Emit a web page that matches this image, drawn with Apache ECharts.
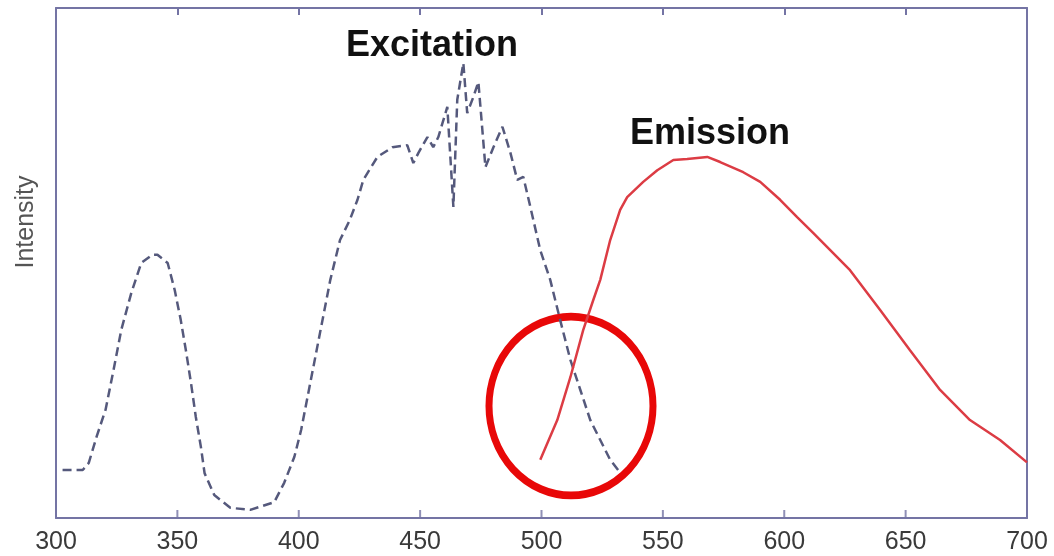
<!DOCTYPE html>
<html>
<head>
<meta charset="utf-8">
<script src="https://cdn.jsdelivr.net/npm/echarts@6/dist/echarts.min.js"></script>
<style>html,body{margin:0;padding:0;background:#fff}#c{width:1054px;height:556px}</style>
</head>
<body>
<div id="c"></div>
<script>
var xTicks = [300, 350, 400, 450, 500, 550, 600, 650, 700];
var excitationNm = [302.7, 311, 313.5, 316.7, 320.4, 323.7, 326.9, 331, 335.1, 339.7, 341.8, 346, 348.9, 351.4, 353.5, 355.6, 357.6, 359.7, 361.2, 365.2, 371.8, 380, 389.9, 394, 398.2, 401, 405, 409, 413, 417, 421, 424.2, 426.6, 432.4, 438.6, 444.7, 447.2, 449.3, 453, 455.4, 457.5, 461.2, 463.7, 465.3, 467.8, 469.4, 471.9, 474, 476.9, 480.2, 483.9, 487.2, 490, 492.5, 495.4, 499.5, 503.6, 507.7, 511.9, 516, 520.1, 524.2, 528.3, 531.6];
var excitationVal = [9.4, 9.4, 10.8, 15.9, 21.2, 29, 36.9, 44.1, 50, 51.6, 51.6, 50, 44.7, 38.8, 32.9, 26.5, 19.8, 13.9, 8.8, 4.5, 2, 1.6, 3.1, 6.9, 12, 17.3, 27.1, 36.9, 46.7, 54.5, 58.4, 62.4, 66.3, 70.8, 72.7, 73.1, 69.6, 71.6, 74.7, 72.7, 74.7, 80.6, 61, 82, 89.2, 79.4, 82.5, 85.5, 68.8, 72.7, 76.7, 71.6, 66.3, 66.9, 61, 52.5, 46.7, 38.8, 31, 25.1, 19.2, 15.3, 11.4, 9.4];
var emissionNm = [499.5, 506.5, 511.9, 517.2, 521.3, 524.2, 528.3, 532.4, 535.3, 541.9, 547.7, 554.3, 560, 568.3, 573.6, 583.1, 590.1, 598.3, 605.3, 611.9, 627.1, 639.5, 651.8, 664.2, 676.5, 688.9, 700];
var emissionVal = [11.4, 19.2, 27.6, 36.9, 42.7, 46.7, 54.5, 60.4, 62.9, 65.9, 68.2, 70.2, 70.4, 70.8, 69.8, 67.8, 65.9, 62.4, 59, 55.9, 48.6, 40.8, 32.9, 25.1, 19.2, 15.3, 10.9];
var labels = ['Excitation', 'Emission'];
var yName = 'Intensity';

function pairs(xs, ys) { return xs.map(function (x, i) { return [x, ys[i]]; }); }

var axisColor = '#7474a4';
var xMin = xTicks[0], xMax = xTicks[xTicks.length - 1];
var bottomTicks = xTicks.slice(1, xTicks.length - 1).map(function (x) { return [x, 0]; });
var chart = echarts.init(document.getElementById('c'));
chart.setOption({
  animation: false,
  backgroundColor: '#ffffff',
  grid: { left: 56, right: 27, top: 8, bottom: 38 },
  xAxis: [
    {
      type: 'value', min: xMin, max: xMax, interval: 50, position: 'bottom',
      axisLine: { show: true, onZero: false, lineStyle: { color: axisColor, width: 2 } },
      axisTick: { show: false },
      axisLabel: { show: true, color: '#3a3a3a', fontSize: 25, fontFamily: 'Liberation Sans, Arial', margin: 12 },
      splitLine: { show: false }
    },
    {
      type: 'value', min: xMin, max: xMax, interval: 50, position: 'top',
      axisLine: { show: true, onZero: false, lineStyle: { color: axisColor, width: 2 } },
      axisTick: { show: true, inside: true, length: 7, lineStyle: { color: axisColor, width: 2 } },
      axisLabel: { show: false }, splitLine: { show: false }
    }
  ],
  yAxis: [
    {
      type: 'value', min: 0, max: 100, position: 'left',
      axisLine: { show: true, onZero: false, lineStyle: { color: axisColor, width: 2 } },
      axisTick: { show: false }, axisLabel: { show: false }, splitLine: { show: false }
    },
    {
      type: 'value', min: 0, max: 100, position: 'right',
      axisLine: { show: true, onZero: false, lineStyle: { color: axisColor, width: 2 } },
      axisTick: { show: false }, axisLabel: { show: false }, splitLine: { show: false }
    }
  ],
  series: [
    {
      name: labels[0], type: 'line', xAxisIndex: 0, yAxisIndex: 0, showSymbol: false,
      data: pairs(excitationNm, excitationVal),
      lineStyle: { color: '#55597c', width: 2.5, type: [9, 5] }
    },
    {
      name: labels[1], type: 'line', xAxisIndex: 0, yAxisIndex: 0, showSymbol: false,
      data: pairs(emissionNm, emissionVal),
      lineStyle: { color: '#dc3c44', width: 2.5 }
    },
    {
      name: 'ticks', type: 'scatter', xAxisIndex: 0, yAxisIndex: 0, silent: true, clip: false,
      data: bottomTicks, symbol: 'rect', symbolSize: [2, 8], symbolOffset: [0, -4],
      itemStyle: { color: axisColor }, z: 3
    }
  ],
  graphic: [
    { type: 'text', x: 26, y: 222, rotation: Math.PI / 2,
      style: { text: yName, fill: '#555', font: '25px Liberation Sans, Arial', align: 'center', verticalAlign: 'middle' } },
    { type: 'text', left: 346, top: 28, style: { text: labels[0], fill: '#111', font: 'bold 36px Liberation Sans, Arial' } },
    { type: 'text', left: 630, top: 116, style: { text: labels[1], fill: '#111', font: 'bold 36px Liberation Sans, Arial' } },
    { type: 'circle', x: 571, y: 406, scaleY: 1.09, shape: { cx: 0, cy: 0, r: 82 },
      style: { fill: 'none', stroke: '#e80808', lineWidth: 7, strokeNoScale: true } }
  ]
});
</script>
</body>
</html>
